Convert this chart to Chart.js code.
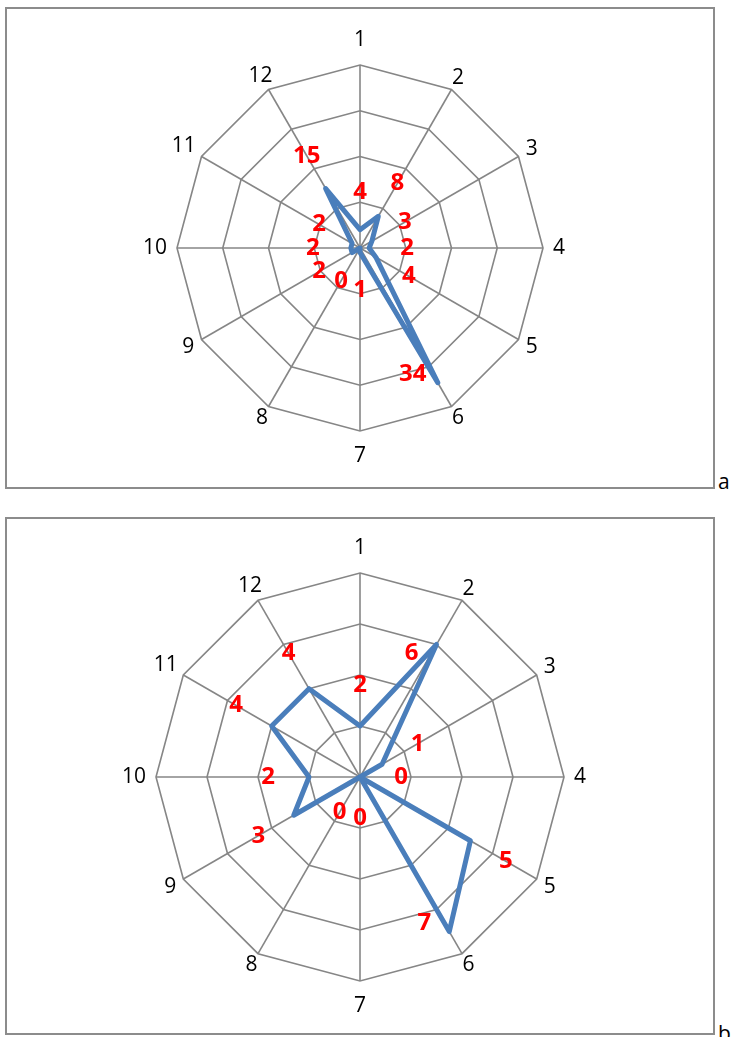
<!DOCTYPE html>
<html>
<head>
<meta charset="utf-8">
<script src="https://cdn.jsdelivr.net/npm/chart.js@4.4.1/dist/chart.umd.min.js"></script>
<style>
  body { margin: 0; background: #fff; width: 731px; height: 1037px; position: relative; overflow: hidden; font-family: "Open Sans", sans-serif; }
  .box { position: absolute; left: 5px; width: 706px; border: 2px solid #8c8c8c; }
  .box canvas { display: block; }
  .tag { position: absolute; font-size: 21px; line-height: 20px; color: #000; }
</style>
</head>
<body>
<div class="box" style="top:7px;height:478px"><canvas id="chartA" width="706" height="478"></canvas></div>
<span class="tag" style="left:718px;top:471px">a</span>
<div class="box" style="top:517px;height:514px"><canvas id="chartB" width="706" height="514"></canvas></div>
<span class="tag" style="left:718px;top:1023px">b</span>

<script>
// categories around the web
const categories = ['1', '2', '3', '4', '5', '6', '7', '8', '9', '10', '11', '12'];

// series values
const seriesA = [4, 8, 3, 2, 4, 34, 1, 0, 2, 2, 2, 15];
const seriesB = [2, 6, 1, 0, 5, 7, 0, 0, 3, 2, 4, 4];

// radial tick values (grid rings)
const ticksA = [0, 10, 20, 30, 40];
const ticksB = [0, 2, 4, 6, 8];

// draws the category numbers and the red value labels
const radarText = {
    id: 'radarText',
    afterDatasetsDraw(chart, args, opts) {
        const scale = chart.scales.r;
        const ctx = chart.ctx;
        const R = scale.drawingArea;
        ctx.save();
        ctx.textAlign = 'center';
        ctx.textBaseline = 'middle';

        // category labels outside the web
        ctx.font = '21px "Open Sans", sans-serif';
        ctx.fillStyle = '#000';
        chart.data.labels.forEach((lab, i) => {
            const p = scale.getPointPosition(i, R);
            const dx = Math.cos(p.angle), dy = Math.sin(p.angle);
            const w = ctx.measureText(lab).width;
            const gap = 10 + w / 2 * Math.abs(dx) + (Math.abs(dy) > 0.99 ? 15 : 0);
            ctx.fillText(lab, p.x + dx * gap, p.y + dy * gap);
        });

        // value labels
        ctx.font = 'bold 24px "Open Sans", sans-serif';
        ctx.fillStyle = '#ff0000';
        chart.data.datasets[0].data.forEach((v, i) => {
            const d = scale.getDistanceFromCenterForValue(v);
            const p = scale.getPointPosition(i, d);
            const dx = Math.cos(p.angle), dy = Math.sin(p.angle);
            let x, y;
            if (d > R * 0.7) {
                // near the rim: put it inside, left of the point
                x = p.x - dx * 10 - 20;
                y = p.y - dy * 10;
            } else {
                x = p.x + dx * opts.offset;
                y = p.y + dy * opts.offset;
            }
            ctx.fillText(String(v), x, y);
        });
        ctx.restore();
    }
};

function makeRadar(id, values, ticks, pad, offset) {
    const ctx = document.getElementById(id).getContext('2d');
    return new Chart(ctx, {
        type: 'radar',
        data: {
            labels: categories,
            datasets: [{
                data: values,
                borderColor: '#4a7ebb',
                backgroundColor: 'transparent',
                borderWidth: 5,
                borderJoinStyle: 'round',
                borderCapStyle: 'round',
                fill: false,
                tension: 0,
                pointRadius: 0,
                pointHoverRadius: 0
            }]
        },
        options: {
            responsive: false,
            animation: false,
            devicePixelRatio: 1,
            layout: { padding: pad },
            plugins: {
                legend: { display: false },
                tooltip: { enabled: false },
                radarText: { offset: offset }
            },
            scales: {
                r: {
                    min: ticks[0],
                    max: ticks[ticks.length - 1],
                    ticks: { display: false, stepSize: ticks[1] - ticks[0] },
                    grid: { color: '#868686', lineWidth: 1.6 },
                    angleLines: { color: '#868686', lineWidth: 1.6 },
                    pointLabels: { display: false }
                }
            }
        },
        plugins: [radarText]
    });
}

makeRadar('chartA', seriesA, ticksA, { left: 170, right: 170, top: 56, bottom: 56 }, 38);
makeRadar('chartB', seriesB, ticksB, { left: 149, right: 149, top: 54, bottom: 52 }, 41);
</script>
</body>
</html>
